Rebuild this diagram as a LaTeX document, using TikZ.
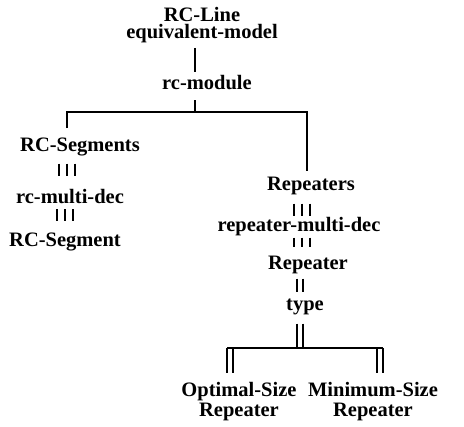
\documentclass[tikz,border=0pt]{standalone}
\usepackage{fontspec}
\setmainfont{Liberation Serif}
\usetikzlibrary{calc}

\begin{document}
\begin{tikzpicture}[
  x=1pt, y=-1pt,
  every node/.style={font=\fontsize{20.5}{17}\selectfont\bfseries, inner sep=0pt},
  term/.style={anchor=base},
  leaf/.style={anchor=north, align=center,
               font=\fontsize{20.5}{20}\selectfont\bfseries},
  link/.style={line width=1.7pt},
]

%% ── Frame ─────────────────────────────────────────────
\fill[white] (0,0) rectangle (464,427);

%% ── Link columns ──────────────────────────────────────
\coordinate (mcol)  at (195,0);   % root stem
\coordinate (lcol)  at (67,0);    % RC-Segments stem
\coordinate (lcolb) at (65,0);    % rc-multi-dec stem
\coordinate (rdrop) at (307,0);   % drop to Repeaters
\coordinate (rcol)  at (302,0);   % Repeaters stem
\coordinate (tcol)  at (300,0);   % type stem
\coordinate (ocol)  at (230,0);   % drop to Optimal-Size
\coordinate (mmcol) at (380,0);   % drop to Minimum-Size
\coordinate (split) at (195,112);
\coordinate (fork)  at (300,348);

%% ── Nodes (top → bottom) ──────────────────────────────
\node[anchor=north, align=center] (root) at (202,7) {RC-Line\\equivalent-model};
\node[term] (module)   at (207,90)  {rc-module};
\node[term] (segs)     at (80,152)  {RC-Segments};
\node[term] (rcmulti)  at (70,204)  {rc-multi-dec};
\node[term] (seg)      at (65,247)  {RC-Segment};
\node[term] (reps)     at (311,191) {Repeaters};
\node[term] (repmulti) at (299,232) {repeater-multi-dec};
\node[term] (rep)      at (308,270) {Repeater};
\node[term] (type)     at (305,311) {type};
\node[leaf] (optimal)  at (239,382) {Optimal-Size\\Repeater};
\node[leaf] (minimum)  at (373,382) {Minimum-Size\\Repeater};

%% ── Single links ──────────────────────────────────────
\draw[link, shorten <=5pt, shorten >=4pt] (root.south -| mcol) -- (module.north -| mcol);
\draw[link, shorten <=10pt] (module.south -| mcol) -- (split);
\draw[link, shorten <=10pt, shorten >=6pt]
  (segs.north -| lcol) |- (split) -| (reps.north -| rdrop);

%% ── Triple links ──────────────────────────────────────
\foreach \dx in {-8,0,8} {
  \draw[link, shorten <=7pt, shorten >=14pt]
    ($(segs.south -| lcol)+(\dx,0)$) -- ($(rcmulti.north -| lcol)+(\dx,0)$);
  \draw[link, shorten <=5pt, shorten >=12pt]
    ($(rcmulti.south -| lcolb)+(\dx,0)$) -- ($(seg.north -| lcolb)+(\dx,0)$);
  \draw[link, shorten <=8pt, shorten >=2pt]
    ($(reps.south -| rcol)+(\dx,0)$) -- ($(repmulti.north -| rcol)+(\dx,0)$);
  \draw[link, shorten <=1pt, shorten >=9pt]
    ($(repmulti.south -| rcol)+(\dx,0)$) -- ($(rep.north -| rcol)+(\dx,0)$);
}

%% ── Double links ──────────────────────────────────────
\foreach \dx in {-3,3} {
  \draw[link, shorten <=4pt, shorten >=7pt]
    ($(rep.south -| tcol)+(\dx,0)$) -- ($(type.north -| tcol)+(\dx,0)$);
  \draw[link, shorten <=8pt]
    ($(type.south -| fork)+(\dx,0)$) -- ($(fork)+(\dx,0)$);
  \draw[link, shorten >=9pt]
    ($(fork -| ocol)+(\dx,0)$) -- ($(optimal.north -| ocol)+(\dx,0)$);
  \draw[link, shorten >=9pt]
    ($(fork -| mmcol)+(\dx,0)$) -- ($(minimum.north -| mmcol)+(\dx,0)$);
}
\draw[link] ($(fork -| ocol)+(-3,0)$) -- ($(fork -| mmcol)+(3,0)$);

\end{tikzpicture}
\end{document}
